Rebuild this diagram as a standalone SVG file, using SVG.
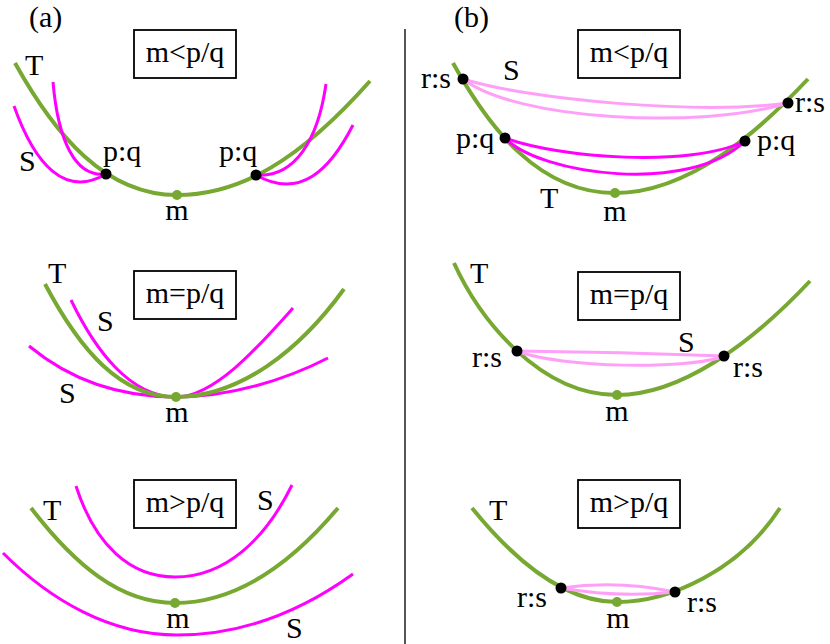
<svg xmlns="http://www.w3.org/2000/svg" width="830" height="644" viewBox="0 0 830 644">
<style>
text{font-family:'Liberation Serif','Times New Roman',serif;font-size:30px;fill:#000}
.c{text-anchor:middle}
.t{fill:none;stroke:#77a832;stroke-width:4}
.s{fill:none;stroke:#ff00ff;stroke-width:3}
.p{fill:none;stroke:#ffa0f8;stroke-width:3}
.box{fill:#fff;stroke:#000;stroke-width:1.8}
.dot{fill:#000}
.gd{fill:#77a832}
</style>
<rect width="830" height="644" fill="#fff"/>
<line x1="405" y1="29" x2="405" y2="644" stroke="#555" stroke-width="2"/>
<text x="29" y="27">(a)</text>
<text x="454" y="27">(b)</text>

<g id="a1">
<g id="a1-box"><rect class="box" x="134" y="30" width="102" height="48"/><text class="c" x="185" y="62">m&lt;p/q</text></g>
<path class="t" d="M15,63 C55,135 105,195 177,195 C240,195 300,160 370,81"/>
<path class="s" d="M53,82 C58,140 75,178 106,174"/>
<path class="s" d="M14,106 C35,165 65,198 106,174"/>
<path class="s" d="M326,84 C318,140 295,178 256,175"/>
<path class="s" d="M353,125 C330,170 300,200 256,175"/>
<circle class="dot" cx="106" cy="174" r="5.5"/>
<circle class="dot" cx="256" cy="175" r="5.5"/>
<circle class="gd" cx="177" cy="195" r="5"/>
<text x="25" y="75">T</text>
<text x="19" y="171">S</text>
<text x="103" y="161">p:q</text>
<text x="219" y="161">p:q</text>
<text class="c" x="177" y="220">m</text>
</g>

<g id="a2">
<g id="a2-box"><rect class="box" x="134" y="271" width="102" height="48"/><text class="c" x="185" y="303">m=p/q</text></g>
<path class="s" d="M71,300 C95,350 130,397 176,397 C215,397 260,345 293,308"/>
<path class="s" d="M29,346 C70,380 120,397 176,397 C230,397 285,380 328,358"/>
<path class="t" d="M45,284 C80,350 120,397 176,397 C240,397 300,350 344,289"/>
<circle class="gd" cx="176" cy="397" r="5"/>
<text x="48" y="283">T</text>
<text x="97" y="331">S</text>
<text x="59" y="403">S</text>
<text class="c" x="177" y="422">m</text>
</g>

<g id="a3">
<g id="a3-box"><rect class="box" x="134" y="480" width="102" height="48"/><text class="c" x="185" y="512">m&gt;p/q</text></g>
<path class="s" d="M76,486 C95,545 130,577 175,577 C225,577 265,540 292,485"/>
<path class="s" d="M3,553 C50,600 110,635 177,635 C250,635 310,605 353,574"/>
<path class="t" d="M31,508 C75,565 120,603 175,603 C235,603 290,565 338,508"/>
<circle class="gd" cx="175" cy="603" r="5"/>
<text x="43" y="520">T</text>
<text x="257" y="510">S</text>
<text x="286" y="638">S</text>
<text class="c" x="178" y="628">m</text>
</g>

<g id="b1">
<g id="b1-box"><rect class="box" x="578" y="30" width="102" height="48"/><text class="c" x="629" y="62">m&lt;p/q</text></g>
<path class="t" d="M453,63 C490,130 540,193 615,193 C690,193 760,130 808,79"/>
<path class="p" d="M463,79 C530,100 700,115 788,103"/>
<path class="p" d="M463,79 C515,120 700,130 788,103"/>
<path class="s" d="M505,138 C560,158 690,168 745,141"/>
<path class="s" d="M505,138 C540,175 690,195 745,141"/>
<circle class="dot" cx="463" cy="79" r="5.5"/>
<circle class="dot" cx="788" cy="103" r="5.5"/>
<circle class="dot" cx="505" cy="138" r="5.5"/>
<circle class="dot" cx="745" cy="141" r="5.5"/>
<circle class="gd" cx="615" cy="193" r="5"/>
<text x="421" y="88">r:s</text>
<text x="503" y="80">S</text>
<text x="795" y="112">r:s</text>
<text x="456" y="148">p:q</text>
<text x="757" y="150">p:q</text>
<text x="540" y="208">T</text>
<text class="c" x="615" y="221">m</text>
</g>

<g id="b2">
<g id="b2-box"><rect class="box" x="578" y="272" width="102" height="48"/><text class="c" x="629" y="304">m=p/q</text></g>
<path class="t" d="M454,263 C480,320 540,395 617,395 C680,395 750,345 810,281"/>
<path class="p" d="M517,351 Q620,352 724,356"/>
<path class="p" d="M517,351 C560,368 690,370 724,356"/>
<circle class="dot" cx="517" cy="351" r="5.5"/>
<circle class="dot" cx="724" cy="356" r="5.5"/>
<circle class="gd" cx="617" cy="395" r="5"/>
<text x="470" y="283">T</text>
<text x="678" y="352">S</text>
<text x="472" y="367">r:s</text>
<text x="733" y="377">r:s</text>
<text class="c" x="617" y="421">m</text>
</g>

<g id="b3">
<g id="b3-box"><rect class="box" x="578" y="480" width="102" height="48"/><text class="c" x="629" y="512">m&gt;p/q</text></g>
<path class="t" d="M472,508 C510,555 560,602 617,602 C670,602 740,570 780,508"/>
<path class="p" d="M561,588 Q618,580 675,592"/>
<path class="p" d="M561,588 Q618,598 675,592"/>
<circle class="dot" cx="561" cy="588" r="5.5"/>
<circle class="dot" cx="675" cy="592" r="5.5"/>
<circle class="gd" cx="617" cy="602" r="5"/>
<text x="489" y="520">T</text>
<text x="517" y="607">r:s</text>
<text x="687" y="612">r:s</text>
<text class="c" x="618" y="628">m</text>
</g>
</svg>
